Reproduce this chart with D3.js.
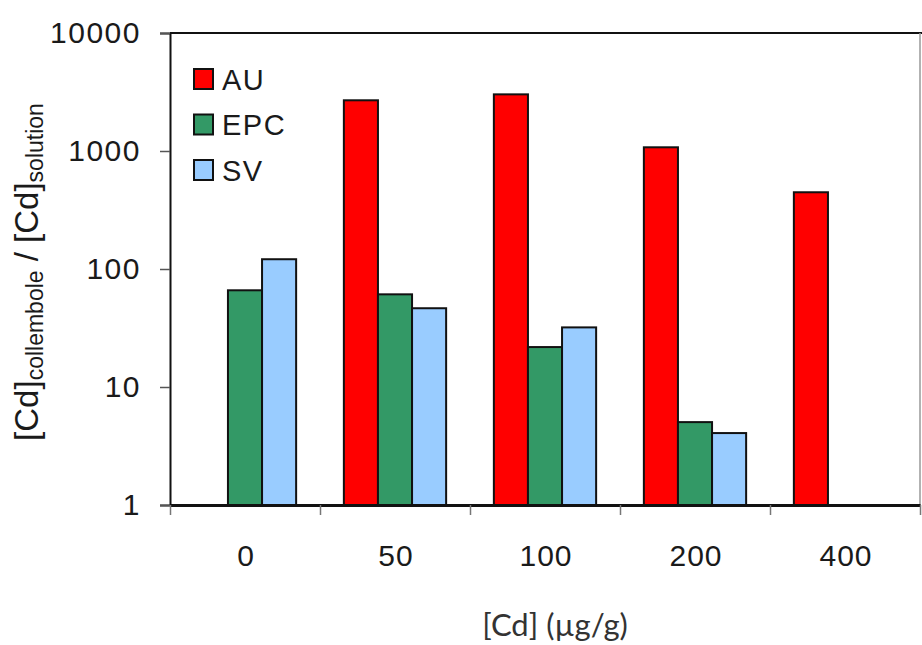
<!DOCTYPE html>
<html><head><meta charset="utf-8">
<script src="https://cdn.jsdelivr.net/npm/d3@7"></script>
<style>body{margin:0;background:#fff}svg{display:block}</style>
</head><body>
<svg id="c" width="922" height="645"></svg>
<script>
const categories = ["0", "50", "100", "200", "400"];
const seriesNames = ["AU", "EPC", "SV"];
const auValues = [null, 2690, 3020, 1075, 447];
const epcValues = [66, 61, 21.8, 5.04, null];
const svValues = [121, 46.5, 32, 4.07, null];
const yTickValues = [1, 10, 100, 1000, 10000];
const colors = ["#ff0000", "#339966", "#99ccff"];

const svg = d3.select("#c");
const L = 170, R = 920, T = 33, B = 505;
const x = d3.scaleBand().domain(categories).range([L, R]).padding(0);
const x1 = d3.scaleBand().domain(seriesNames).range([0, x.bandwidth()]).paddingInner(0).paddingOuter(0.7);
const y = d3.scaleLog().domain([1, 10000]).range([B, T]);
const color = d3.scaleOrdinal().domain(seriesNames).range(colors);
const seriesVals = [auValues, epcValues, svValues];
const FONT = "Liberation Sans, Arial, sans-serif";

// frame
svg.append("line").attr("x1", L).attr("x2", R + 2).attr("y1", T).attr("y2", T).attr("stroke", "#111").attr("stroke-width", 2);
svg.append("line").attr("x1", R).attr("x2", R).attr("y1", T).attr("y2", B).attr("stroke", "#999").attr("stroke-width", 1.5);

// bars
categories.forEach((c, i) => {
  seriesNames.forEach((s, j) => {
    const v = seriesVals[j][i];
    if (v == null) return;
    svg.append("rect")
      .attr("x", x(c) + x1(s))
      .attr("y", y(v))
      .attr("width", x1.bandwidth())
      .attr("height", B - y(v))
      .attr("fill", color(s))
      .attr("stroke", "#111")
      .attr("stroke-width", 2);
  });
});

// y axis
const yAxis = svg.append("g").attr("transform", `translate(${L},0)`)
  .call(d3.axisLeft(y).tickValues(yTickValues).tickFormat(d3.format("d")).tickSize(10).tickPadding(19));
yAxis.select(".domain").attr("stroke", "#111").attr("stroke-width", 2);
yAxis.selectAll(".tick line").attr("stroke", "#555").attr("stroke-width", 1.5);
yAxis.selectAll("text").attr("font-family", FONT).attr("font-size", 30).attr("letter-spacing", 1.5).attr("fill", "#1a1a1a");

// x axis
const xAxisScale = d3.scaleLinear().domain([0, 5]).range([L, R]);
const xAxis = svg.append("g").attr("transform", `translate(0,${B})`)
  .call(d3.axisBottom(xAxisScale).tickValues([0,1,2,3,4,5]).tickFormat("").tickSize(10).tickSizeOuter(0));
xAxis.select(".domain").attr("stroke", "#111").attr("stroke-width", 3);
xAxis.selectAll(".tick line").attr("stroke", "#777").attr("stroke-width", 1.5);
svg.append("g").selectAll("text").data(categories).join("text")
  .attr("x", d => x(d) + x.bandwidth() / 2 + 1)
  .attr("y", 566)
  .attr("text-anchor", "middle")
  .attr("font-family", FONT)
  .attr("font-size", 30)
  .attr("letter-spacing", 1)
  .attr("fill", "#1a1a1a")
  .text(d => d);

// legend
const leg = svg.append("g");
seriesNames.forEach((s, i) => {
  const gy = 69 + i * 45.5;
  leg.append("rect").attr("x", 194).attr("y", gy).attr("width", 19).attr("height", 20)
    .attr("fill", color(s)).attr("stroke", "#111").attr("stroke-width", 2);
  leg.append("text").attr("x", 222).attr("y", gy + 20.5).attr("font-family", FONT)
    .attr("font-size", 29).attr("letter-spacing", 1.5).attr("fill", "#1a1a1a").text(s);
});

// y label
const yl = svg.append("text").attr("transform", "translate(38,272) rotate(-90)")
  .attr("text-anchor", "middle").attr("font-family", FONT)
  .attr("font-size", 33).attr("fill", "#1a1a1a");
yl.append("tspan").text("[Cd]");
yl.append("tspan").attr("font-size", 23).attr("dy", 5).text("collembole");
yl.append("tspan").attr("dy", -5).text(" / [Cd]");
yl.append("tspan").attr("font-size", 23).attr("dy", 5).text("solution");

// x label
svg.append("text").attr("x", 555).attr("y", 636).attr("text-anchor", "middle")
  .attr("font-family", "Lato, 'Open Sans', sans-serif").attr("font-size", 31).attr("fill", "#333")
  .text("[Cd] (µg/g)");
</script>
</body></html>
